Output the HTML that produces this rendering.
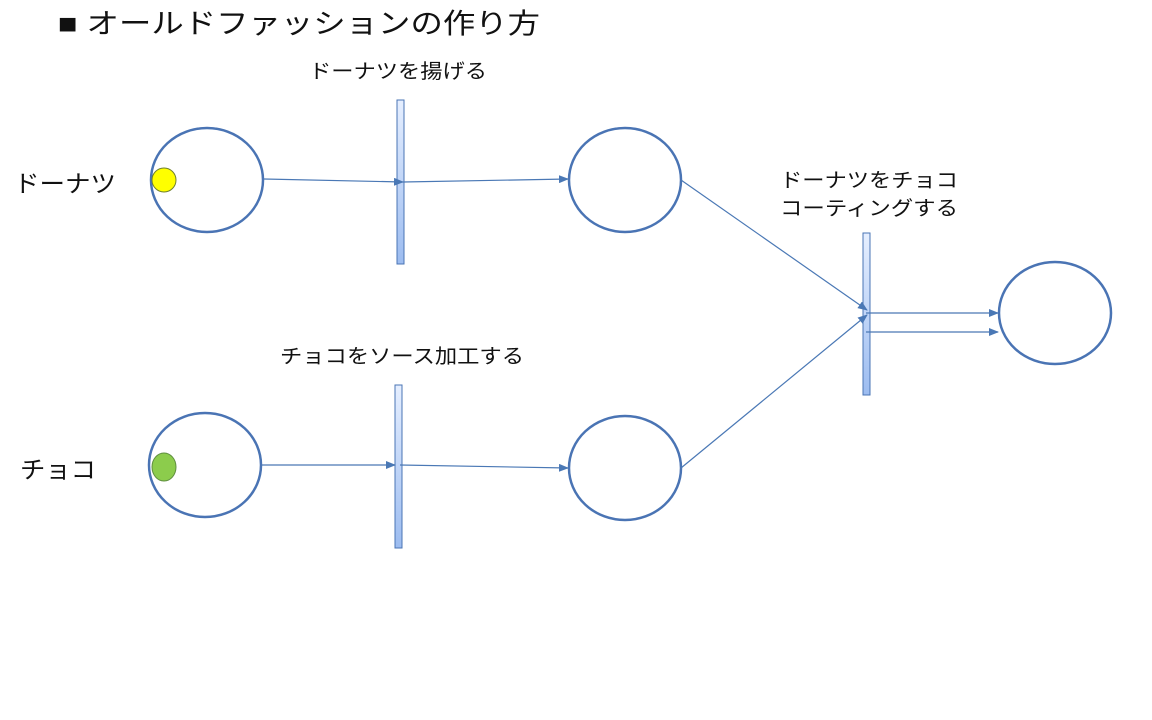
<!DOCTYPE html>
<html><head><meta charset="utf-8"><style>
html,body{margin:0;padding:0;background:#fff;}
svg{display:block;}
text{font-family:"Liberation Sans","Noto Sans CJK JP",sans-serif;fill:#111;}
</style></head><body>
<svg width="1152" height="720" viewBox="0 0 1152 720" xmlns="http://www.w3.org/2000/svg">
<defs>
<marker id="a" markerWidth="10" markerHeight="8" refX="9" refY="4" orient="auto" markerUnits="userSpaceOnUse">
<path d="M0,0 L10,4 L0,8 z" fill="#4a78b5"/></marker>
<linearGradient id="g" x1="0" y1="0" x2="0" y2="1">
<stop offset="0" stop-color="#e6efff"/><stop offset="1" stop-color="#9cbcf0"/></linearGradient>
</defs>
<text x="58" y="33" font-size="28" textLength="482" lengthAdjust="spacingAndGlyphs">■ オールドファッションの作り方</text>
<text x="309" y="78" font-size="20" textLength="178" lengthAdjust="spacingAndGlyphs">ドーナツを揚げる</text>
<text x="14" y="192" font-size="24" textLength="102" lengthAdjust="spacingAndGlyphs">ドーナツ</text>
<text x="20" y="478" font-size="24" textLength="76" lengthAdjust="spacingAndGlyphs">チョコ</text>
<text x="780" y="187" font-size="20" textLength="178" lengthAdjust="spacingAndGlyphs">ドーナツをチョコ</text>
<text x="780" y="215" font-size="20" textLength="178" lengthAdjust="spacingAndGlyphs">コーティングする</text>
<text x="280" y="363" font-size="20" textLength="244" lengthAdjust="spacingAndGlyphs">チョコをソース加工する</text>

<g fill="none" stroke="#4a74b4" stroke-width="2.5">
<ellipse cx="207" cy="180" rx="56" ry="52"/>
<ellipse cx="625" cy="180" rx="56" ry="52"/>
<ellipse cx="205" cy="465" rx="56" ry="52"/>
<ellipse cx="625" cy="468" rx="56" ry="52"/>
<ellipse cx="1055" cy="313" rx="56" ry="51"/>
</g>
<circle cx="164" cy="180" r="12" fill="#ffff00" stroke="#6f7f2f" stroke-width="1"/>
<ellipse cx="164" cy="467" rx="12" ry="14" fill="#8ccc4c" stroke="#5f8f3f" stroke-width="1"/>

<g fill="url(#g)" stroke="#4a74b4" stroke-width="1">
<rect x="397" y="100" width="7" height="164"/>
<rect x="395" y="385" width="7" height="163"/>
<rect x="863" y="233" width="7" height="162"/>
</g>

<g stroke="#4a78b5" stroke-width="1.2" fill="none">
<line x1="264" y1="179" x2="403" y2="182" marker-end="url(#a)"/>
<line x1="403" y1="182" x2="568" y2="179" marker-end="url(#a)"/>
<line x1="262" y1="465" x2="395" y2="465" marker-end="url(#a)"/>
<line x1="400" y1="465" x2="568" y2="468" marker-end="url(#a)"/>
<line x1="681" y1="180" x2="867" y2="310" marker-end="url(#a)"/>
<line x1="681" y1="468" x2="867" y2="315" marker-end="url(#a)"/>
<line x1="866" y1="313" x2="998" y2="313" marker-end="url(#a)"/>
<line x1="866" y1="332" x2="998" y2="332" marker-end="url(#a)"/>
</g>
</svg>
</body></html>
